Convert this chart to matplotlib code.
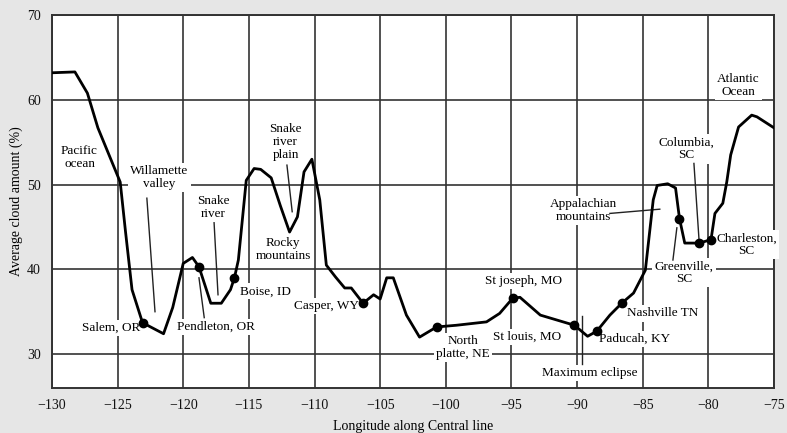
import matplotlib
matplotlib.use("Agg")
import matplotlib.pyplot as plt

# Curve data (longitude, average cloud amount %)
lon = [-130, -128.25, -127.3, -126.5, -124.8, -124.4, -123.9, -123.1, -121.5, -120.8,
       -120.0, -119.3, -118.8, -117.9, -117.1, -116.4, -116.1, -115.8, -115.2, -114.6,
       -114.1, -113.3, -112.6, -111.9, -111.3, -110.8, -110.2, -109.6, -109.1, -108.4,
       -107.7, -107.2, -106.3, -105.5, -105.0, -104.5, -104.0, -103.0, -102.0, -100.7,
       -99.2, -96.9, -95.9, -94.9, -94.35, -92.8, -90.2, -89.2, -88.5, -87.5,
       -86.6, -85.7, -84.8, -84.2, -83.9, -83.1, -82.5, -82.2, -81.8, -80.7,
       -79.8, -79.5, -78.9, -78.6, -78.3, -77.7, -76.7, -76.3, -75.0]
cloud = [63.2, 63.3, 60.8, 56.7, 50.3, 44.5, 37.6, 33.7, 32.4, 35.5,
         40.7, 41.4, 40.3, 36.0, 36.0, 37.6, 39.0, 41.1, 50.5, 51.9,
         51.8, 50.8, 47.5, 44.4, 46.2, 51.5, 53.0, 48.2, 40.5, 39.1,
         37.8, 37.8, 36.0, 37.0, 36.5, 39.0, 39.0, 34.6, 32.0, 33.2,
         33.4, 33.8, 34.8, 36.6, 36.7, 34.6, 33.4, 32.1, 32.7, 34.6,
         36.0, 37.2, 39.9, 48.2, 49.9, 50.1, 49.6, 46.0, 43.1, 43.1,
         43.5, 46.6, 47.8, 50.3, 53.5, 56.8, 58.2, 58.0, 56.7]

# City markers
city_lon = [-123.1, -118.8, -116.1, -106.3, -100.7, -94.9, -90.2, -88.5, -86.6, -82.2, -80.7, -79.8]
city_cloud = [33.7, 40.3, 39.0, 36.0, 33.2, 36.6, 33.4, 32.7, 36.0, 46.0, 43.1, 43.5]

xticks = [-130, -125, -120, -115, -110, -105, -100, -95, -90, -85, -80, -75]
yticks = [30, 40, 50, 60, 70]

plt.rcParams['font.family'] = ['Liberation Serif', 'DejaVu Serif']
plt.rcParams['mathtext.fontset'] = 'stix'

fig = plt.figure(figsize=(7.87, 4.33), dpi=100, facecolor='#e6e6e6')
ax = fig.add_axes([0.066, 0.104, 0.9175, 0.861])
ax.set_facecolor('white')

ax.set_xlim(-130, -75)
ax.set_ylim(26, 70)
ax.set_xticks(xticks)
ax.set_yticks(yticks)
ax.set_xticklabels([f"\u2212{abs(v)}" for v in xticks])
ax.tick_params(length=0, labelsize=10, pad=8, colors='#111111')
ax.grid(True, color='#333333', linewidth=1.2, zorder=0)
ax.set_axisbelow(True)
for s in ax.spines.values():
    s.set_color('#333333')
    s.set_linewidth(1.4)

ax.plot(lon, cloud, color='black', linewidth=2.0, zorder=4)
ax.plot(city_lon, city_cloud, 'o', color='black', markersize=6, zorder=5)

ax.set_xlabel('Longitude along Central line', fontsize=10, labelpad=6)
ax.set_ylabel('Average cloud amount (%)', fontsize=10, labelpad=2.5)

bb = dict(facecolor='white', edgecolor='none', pad=1.5)
fs = 9.5

def lab(x, y, s, ha='center', va='center'):
    ax.text(x, y, s, ha=ha, va=va, fontsize=fs, bbox=bb, zorder=3, linespacing=1.1)

def lead(x0, y0, x1, y1):
    ax.plot([x0, x1], [y0, y1], color='#222222', linewidth=1.0, zorder=3.5)

lab(-127.9, 53.2, 'Pacific\nocean')
lab(-121.8, 50.8, 'Willamette\nvalley')
lead(-122.77, 48.4, -122.15, 35.0)
lab(-117.7, 47.3, 'Snake\nriver')
lead(-117.65, 45.5, -117.35, 37.0)
lab(-123.3, 33.1, 'Salem, OR', ha='right')
lab(-117.5, 33.2, 'Pendleton, OR')
lead(-118.8, 39.0, -118.4, 34.3)
lab(-115.7, 37.4, 'Boise, ID', ha='left')
lab(-112.2, 55.0, 'Snake\nriver\nplain')
lead(-112.1, 52.3, -111.7, 46.8)
lab(-112.4, 42.3, 'Rocky\nmountains')
lab(-106.6, 35.7, 'Casper, WY', ha='right')
lab(-98.7, 30.8, 'North\nplatte, NE')
lab(-94.1, 38.6, 'St joseph, MO')
lab(-93.8, 32.0, 'St louis, MO')
lab(-89.0, 27.8, 'Maximum eclipse')
lead(-89.6, 34.5, -89.6, 28.8)
lab(-88.3, 31.8, 'Paducah, KY', ha='left')
lab(-86.2, 34.8, 'Nashville TN', ha='left')
lab(-89.5, 46.9, 'Appalachian\nmountains')
lead(-87.5, 46.6, -83.7, 47.1)
lab(-81.85, 39.6, 'Greenville,\nSC')
lead(-82.4, 44.9, -82.7, 41.1)
lab(-81.7, 54.2, 'Columbia,\nSC')
lead(-81.1, 52.5, -80.7, 43.2)
lab(-77.1, 42.9, 'Charleston,\nSC')
lab(-77.7, 61.7, 'Atlantic\nOcean')

fig.savefig('out.png', dpi=100, facecolor=fig.get_facecolor())
